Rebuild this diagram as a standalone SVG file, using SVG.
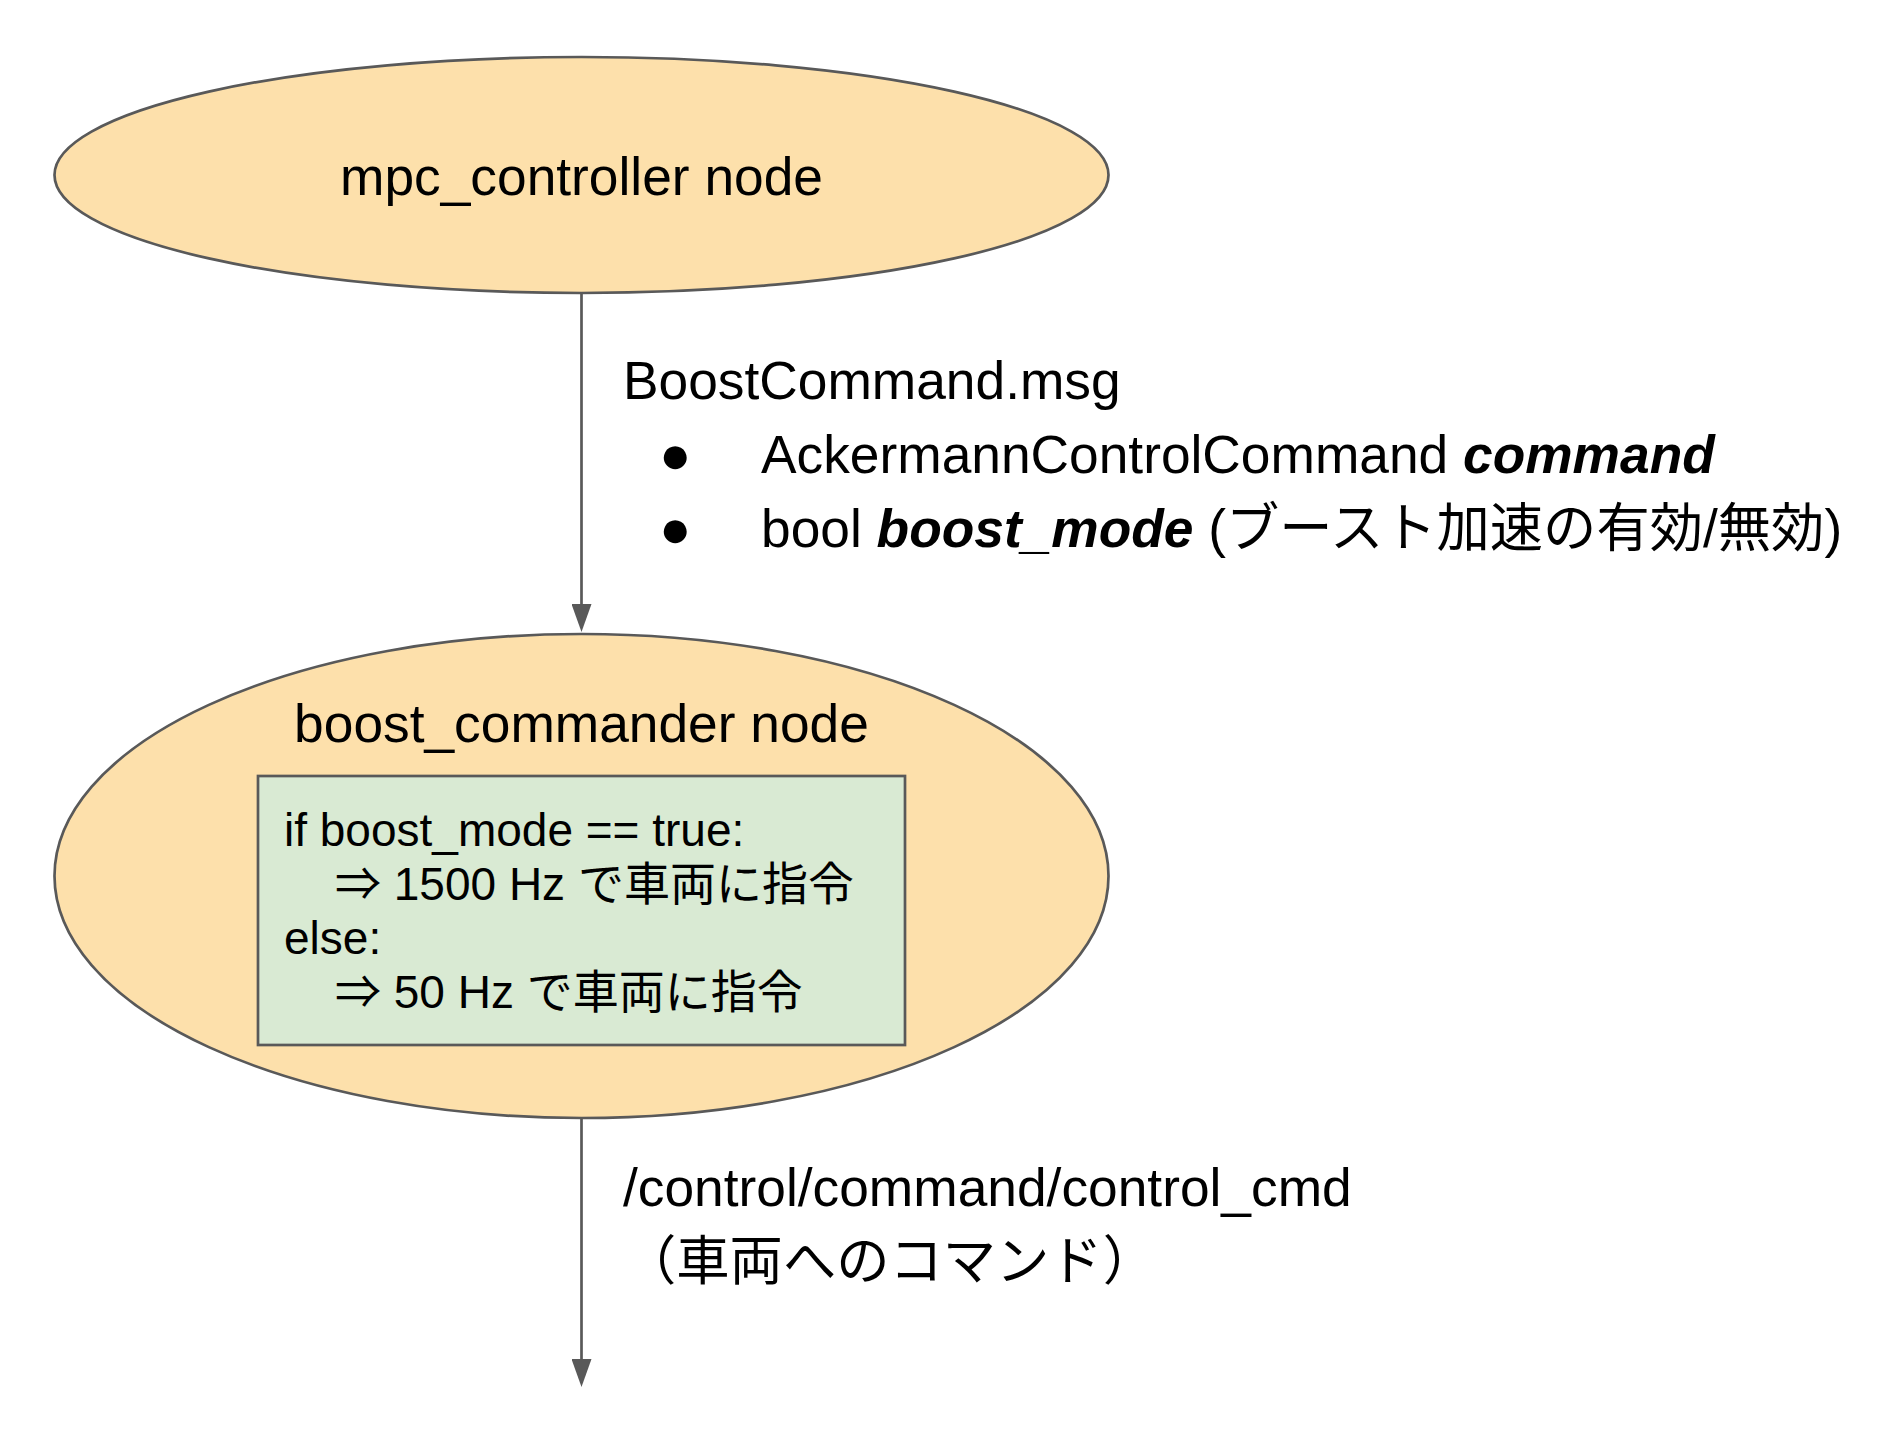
<svg xmlns="http://www.w3.org/2000/svg" width="1898" height="1430" viewBox="0 0 1898 1430">
  <defs>
    <style>
      .node { fill: #FDE0AB; stroke: #595959; stroke-width: 2.7; }
      .box { fill: #D9EAD3; stroke: #595959; stroke-width: 2.7; }
      .edge { stroke: #595959; stroke-width: 2.7; fill: none; }
      .t { font-family: "Liberation Sans", Arial, "Noto Sans CJK JP", sans-serif; fill: #000000; }
      .big { font-size: 53.3px; }
      .small { font-size: 46px; }
      .bi { font-weight: bold; font-style: italic; }
    </style>
    <marker id="arrow" viewBox="0 -10 28 20" refX="0" refY="0" markerWidth="28" markerHeight="20" markerUnits="userSpaceOnUse" orient="auto">
      <path d="M0,-10 L28,0 L0,10 Z" fill="#595959"/>
    </marker>
  </defs>
  <rect width="1898" height="1430" fill="#ffffff"/>

  <g id="connectors">
    <line class="edge" x1="581.5" y1="293" x2="581.5" y2="604" marker-end="url(#arrow)"/>
    <line class="edge" x1="581.5" y1="1118" x2="581.5" y2="1359" marker-end="url(#arrow)"/>
  </g>

  <g id="mpc_controller">
    <ellipse class="node" cx="581.5" cy="175" rx="527" ry="118"/>
    <text class="t big" x="581.5" y="195" text-anchor="middle">mpc_controller node</text>
  </g>

  <g id="boost_commander">
    <ellipse class="node" cx="581.5" cy="876" rx="527" ry="242"/>
    <text class="t big" x="581.5" y="742" text-anchor="middle">boost_commander node</text>
    <g id="logic_box">
      <rect class="box" x="258" y="776" width="647" height="269"/>
      <text class="t small" x="284" y="846">if boost_mode == true:</text>
      <text class="t small" x="335" y="900">⇒ 1500 Hz で車両に指令</text>
      <text class="t small" x="284" y="954">else:</text>
      <text class="t small" x="335" y="1008">⇒ 50 Hz で車両に指令</text>
    </g>
  </g>

  <g id="label_boostcommand">
    <text class="t big" x="623" y="399">BoostCommand.msg</text>
    <text class="t big" x="659" y="473">●</text>
    <text class="t big" x="761" y="473">AckermannControlCommand <tspan class="bi">command</tspan></text>
    <text class="t big" x="659" y="547">●</text>
    <text class="t big" x="761" y="547">bool <tspan class="bi">boost_mode</tspan> (ブースト加速の有効/無効)</text>
  </g>

  <g id="label_control_cmd">
    <text class="t big" x="623" y="1206">/control/command/control_cmd</text>
    <text class="t big" x="623" y="1280">（車両へのコマンド）</text>
  </g>
</svg>
